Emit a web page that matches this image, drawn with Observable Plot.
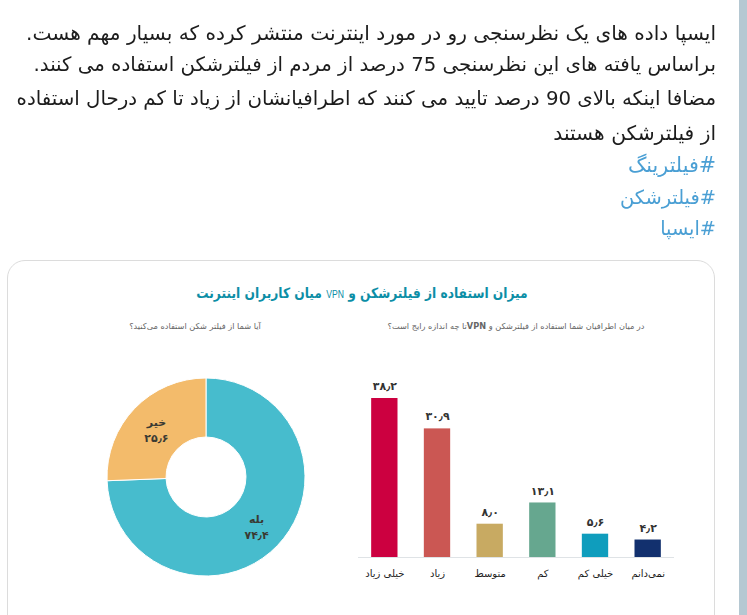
<!DOCTYPE html>
<html lang="fa">
<head>
<meta charset="utf-8">
<script src="https://cdn.jsdelivr.net/npm/d3@7"></script>
<script src="https://cdn.jsdelivr.net/npm/@observablehq/plot@0.6"></script>
<style>
html,body{margin:0;padding:0;background:#fff;overflow:hidden}
body{width:747px;height:615px;position:relative;font-family:"DejaVu Sans",sans-serif}
#strip{position:absolute;left:739px;top:0;width:8px;height:615px;background:#b5c8d2}
.line{position:absolute;right:31px;direction:rtl;white-space:nowrap;color:#1c1c1c;font-size:20px;line-height:24px;height:24px;filter:blur(.3px)}
.tag{color:#4a9fd4}
#card{position:absolute;left:7px;top:260px;width:706px;height:400px;border:1px solid #dcdcdc;border-radius:18px;box-sizing:content-box}
.h{position:absolute;direction:rtl;white-space:nowrap;transform:translateX(-50%)}
#title{left:362px;top:284px;font-size:14.2px;font-weight:bold;color:#0c8ea6;line-height:18px;transform:translateX(-50%) scaleX(.862)}
#title span{font-weight:normal;font-size:10px;color:#0c8ea6;font-family:"Liberation Sans",sans-serif}
.sub{top:320px;font-size:8.2px;color:#666;line-height:12px}
#barsBox{position:absolute;left:340.5px;top:370px}
#pieBox{position:absolute;left:97px;top:367px}
svg{overflow:visible;display:block}
</style>
</head>
<body>
<div id="strip"></div>
<div class="line" style="top:21px;font-size:20.1px">ایسپا داده های یک نظرسنجی رو در مورد اینترنت منتشر کرده که بسیار مهم هست.</div>
<div class="line" style="top:53px;font-size:19.75px">براساس یافته های این نظرسنجی 75 درصد از مردم از فیلترشکن استفاده می کنند.</div>
<div class="line" style="top:87px;font-size:19.8px">مضافا اینکه بالای 90 درصد تایید می کنند که اطرافیانشان از زیاد تا کم درحال استفاده</div>
<div class="line" style="top:121px;font-size:20.2px">از فیلترشکن هستند</div>
<div class="line tag" style="top:153px;font-size:20.6px">#فیلترینگ</div>
<div class="line tag" style="top:186px;font-size:19.4px">#فیلترشکن</div>
<div class="line tag" style="top:217px;font-size:19.3px">#ایسپا</div>
<div id="card"></div>
<div class="h" id="title">میزان استفاده از فیلترشکن و <span>VPN</span> میان کاربران اینترنت</div>
<div class="h sub" style="left:516px">در میان اطرافیان شما استفاده از فیلترشکن و <b>VPN</b>تا چه اندازه رایج است؟</div>
<div class="h sub" style="left:195px">آیا شما از فیلتر شکن استفاده می‌کنید؟</div>
<div id="pieBox"></div>
<div id="barsBox"></div>
<script>
const barCategories = ["خیلی زیاد", "زیاد", "متوسط", "کم", "خیلی کم", "نمی‌دانم"];
const barValues = [38.2, 30.9, 8.0, 13.1, 5.6, 4.2];
const barColors = ["#cc0040", "#cb5753", "#c8aa62", "#66a78f", "#0f9dbd", "#12306e"];
const pieCategories = ["بله", "خیر"];
const pieValues = [74.4, 25.6];
const pieColors = ["#47bccd", "#f3bb6b"];

const fa = v => v.toFixed(1).replace(".", "٫").replace(/\d/g, d => "۰۱۲۳۴۵۶۷۸۹"[+d]);
const font = '"DejaVu Sans", sans-serif';

// Bars
const bars = barCategories.map((c, i) => ({c, v: barValues[i]}));
document.getElementById("barsBox").append(Plot.plot({
  width: 340, height: 215,
  marginLeft: 17, marginRight: 7, marginTop: 28, marginBottom: 28,
  style: {background: "transparent", fontFamily: font},
  x: {domain: barCategories, paddingInner: 0.5, paddingOuter: 0.25, round: false, label: null},
  y: {domain: [0, 38.2], axis: null},
  color: {domain: barCategories, range: barColors},
  marks: [
    Plot.barY(bars, {x: "c", y: "v", fill: "c"}),
    Plot.ruleY([0], {stroke: "#dfe3e6", strokeWidth: 1}),
    Plot.text(bars, {x: "c", y: "v", text: d => fa(d.v), dy: -12, fontSize: 11, fontWeight: "bold", fill: "#333"}),
    Plot.axisX({tickSize: 0, tickPadding: 12, fontSize: 10, color: "#222", label: null})
  ]
}));

// Donut, in a unit coordinate system whose x and y scales place it on the page
const innerRatio = 0.404;
const arcs = d3.pie().sort(null)(pieValues).map((a, i) => ({
  label: pieCategories[i], value: pieValues[i],
  startAngle: a.startAngle, endAngle: a.endAngle,
  mx: d3.arc().innerRadius(innerRatio).outerRadius(1).centroid(a)[0],
  my: -d3.arc().innerRadius(innerRatio).outerRadius(1).centroid(a)[1]
}));
document.getElementById("pieBox").append(Plot.plot({
  width: 218, height: 220,
  margin: 10,
  style: {background: "transparent", fontFamily: font},
  x: {domain: [-1, 1], axis: null},
  y: {domain: [-1, 1], axis: null},
  color: {domain: pieCategories, range: pieColors},
  marks: [
    Plot.dot(arcs, {
      x: "mx", y: "my", fill: "label",
      render(index, scales, values) {
        const cx = scales.x(0), cy = scales.y(0), r = scales.x(1) - cx;
        const arc = d3.arc().innerRadius(r * innerRatio).outerRadius(r);
        const g = d3.create("svg:g").attr("transform", `translate(${cx},${cy})`);
        for (const i of index) {
          g.append("path").attr("d", arc(arcs[i])).attr("fill", values.fill[i])
            .attr("stroke", "#fff").attr("stroke-width", 1);
        }
        return g.node();
      }
    }),
    Plot.text(arcs, {
      x: "mx", y: "my", text: d => d.label + "\n" + fa(d.value),
      fontSize: 11, fontWeight: "bold", fill: "#3a3a33", lineHeight: 1.45
    })
  ]
}));
</script>
</body>
</html>
